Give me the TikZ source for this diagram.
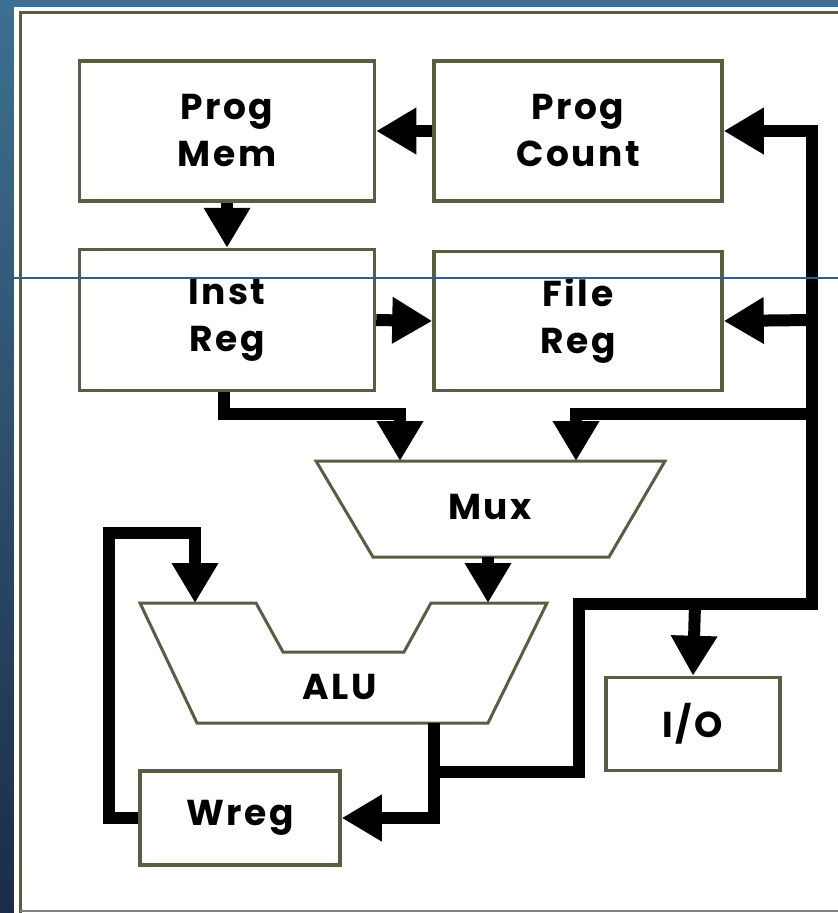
\documentclass[tikz,border=0pt]{standalone}
\usepackage{fontspec}
\setmainfont{Poppins}[LetterSpace=7]
\usetikzlibrary{arrows.meta}
\definecolor{edgegray}{RGB}{92,92,68}
\definecolor{bgtop}{RGB}{62,112,145}
\definecolor{bgbot}{RGB}{27,44,72}
\definecolor{stripe}{RGB}{47,95,133}
\begin{document}
\begin{tikzpicture}[x=1pt, y=-1pt]
  \tikzstyle{blk} = [draw=edgegray, line width=3.5pt, fill=white, align=center, inner sep=0pt, font=\fontsize{36}{47}\selectfont\bfseries]
  \tikzstyle{lbl} = [align=center, inner sep=0pt, font=\fontsize{36}{47}\selectfont\bfseries]
  \tikzstyle{wire} = [line width=12pt, -{Triangle[width=44pt, length=40pt]}]
  \useasboundingbox (0,0) rectangle (838,913);
  % frame
  \shade[top color=bgtop, bottom color=bgbot] (0,0) rectangle (838,913);
  \fill[white] (14,7) rectangle (838,913);
  \draw[edgegray, line width=3pt] (20,913) -- (20,12) -- (838,12);
  \draw[gray, line width=2pt] (20,911) -- (838,911);
  % registers
  \node[blk, minimum width=295pt, minimum height=140pt] (pmem) at (227,131) {Prog\\Mem};
  \node[blk, minimum width=288pt, minimum height=140pt] (pcount) at (578,131) {Prog\\Count};
  \node[blk, minimum width=295pt, minimum height=141pt] (inst) at (227,320) {Inst\\Reg};
  \node[blk, minimum width=288pt, minimum height=139pt] (freg) at (578,321) {File\\Reg};
  \node[blk, minimum width=200pt, minimum height=94pt] (wreg) at (240,818) {Wreg};
  \node[blk, minimum width=174pt, minimum height=93pt] (io) at (693,724) {I/O};
  % mux and alu
  \draw[edgegray, line width=3pt, fill=white] (316,461) -- (665,461) -- (609,557) -- (373,557) -- cycle;
  \node[lbl] (mux) at (490,507) {Mux};
  \draw[edgegray, line width=3pt, fill=white] (140,603) -- (256,603) -- (283,652) -- (404,652) -- (431,603) -- (547,603) -- (488,723) -- (197,723) -- cycle;
  \node[lbl] (alu) at (340,687) {ALU};
  \coordinate (muxinA) at (400,461);
  \coordinate (muxinB) at (576,461);
  \coordinate (muxout) at (488,557);
  \coordinate (aluinA) at (195,603);
  \coordinate (aluinB) at (488,603);
  \coordinate (aluout) at (434,723);
  % connectors
  \draw[wire] (pcount.west) -- (pmem.east);
  \draw[wire] (pmem.south) -- (inst.north);
  \draw[wire] (inst.east) -- (freg.west);
  \draw[wire] ([xshift=-3pt]inst.south) |- (400,414) -- (muxinA);
  \draw[wire] (muxout) -- (aluinB);
  \draw[wire] (wreg.west) -| (109,533) -| (aluinA);
  \draw[wire] (aluout) |- (wreg.east);
  \draw[wire] (434,772) -- (579,772) -- (579,604) -- (812,604) |- (pcount.east);
  \draw[wire] (812,320) -- (freg.east);
  \draw[wire] (812,414) -| (muxinB);
  \draw[wire] (695,604) -- (io.north);
  \draw[stripe, line width=1.2pt] (14,278) -- (838,278);
\end{tikzpicture}
\end{document}
